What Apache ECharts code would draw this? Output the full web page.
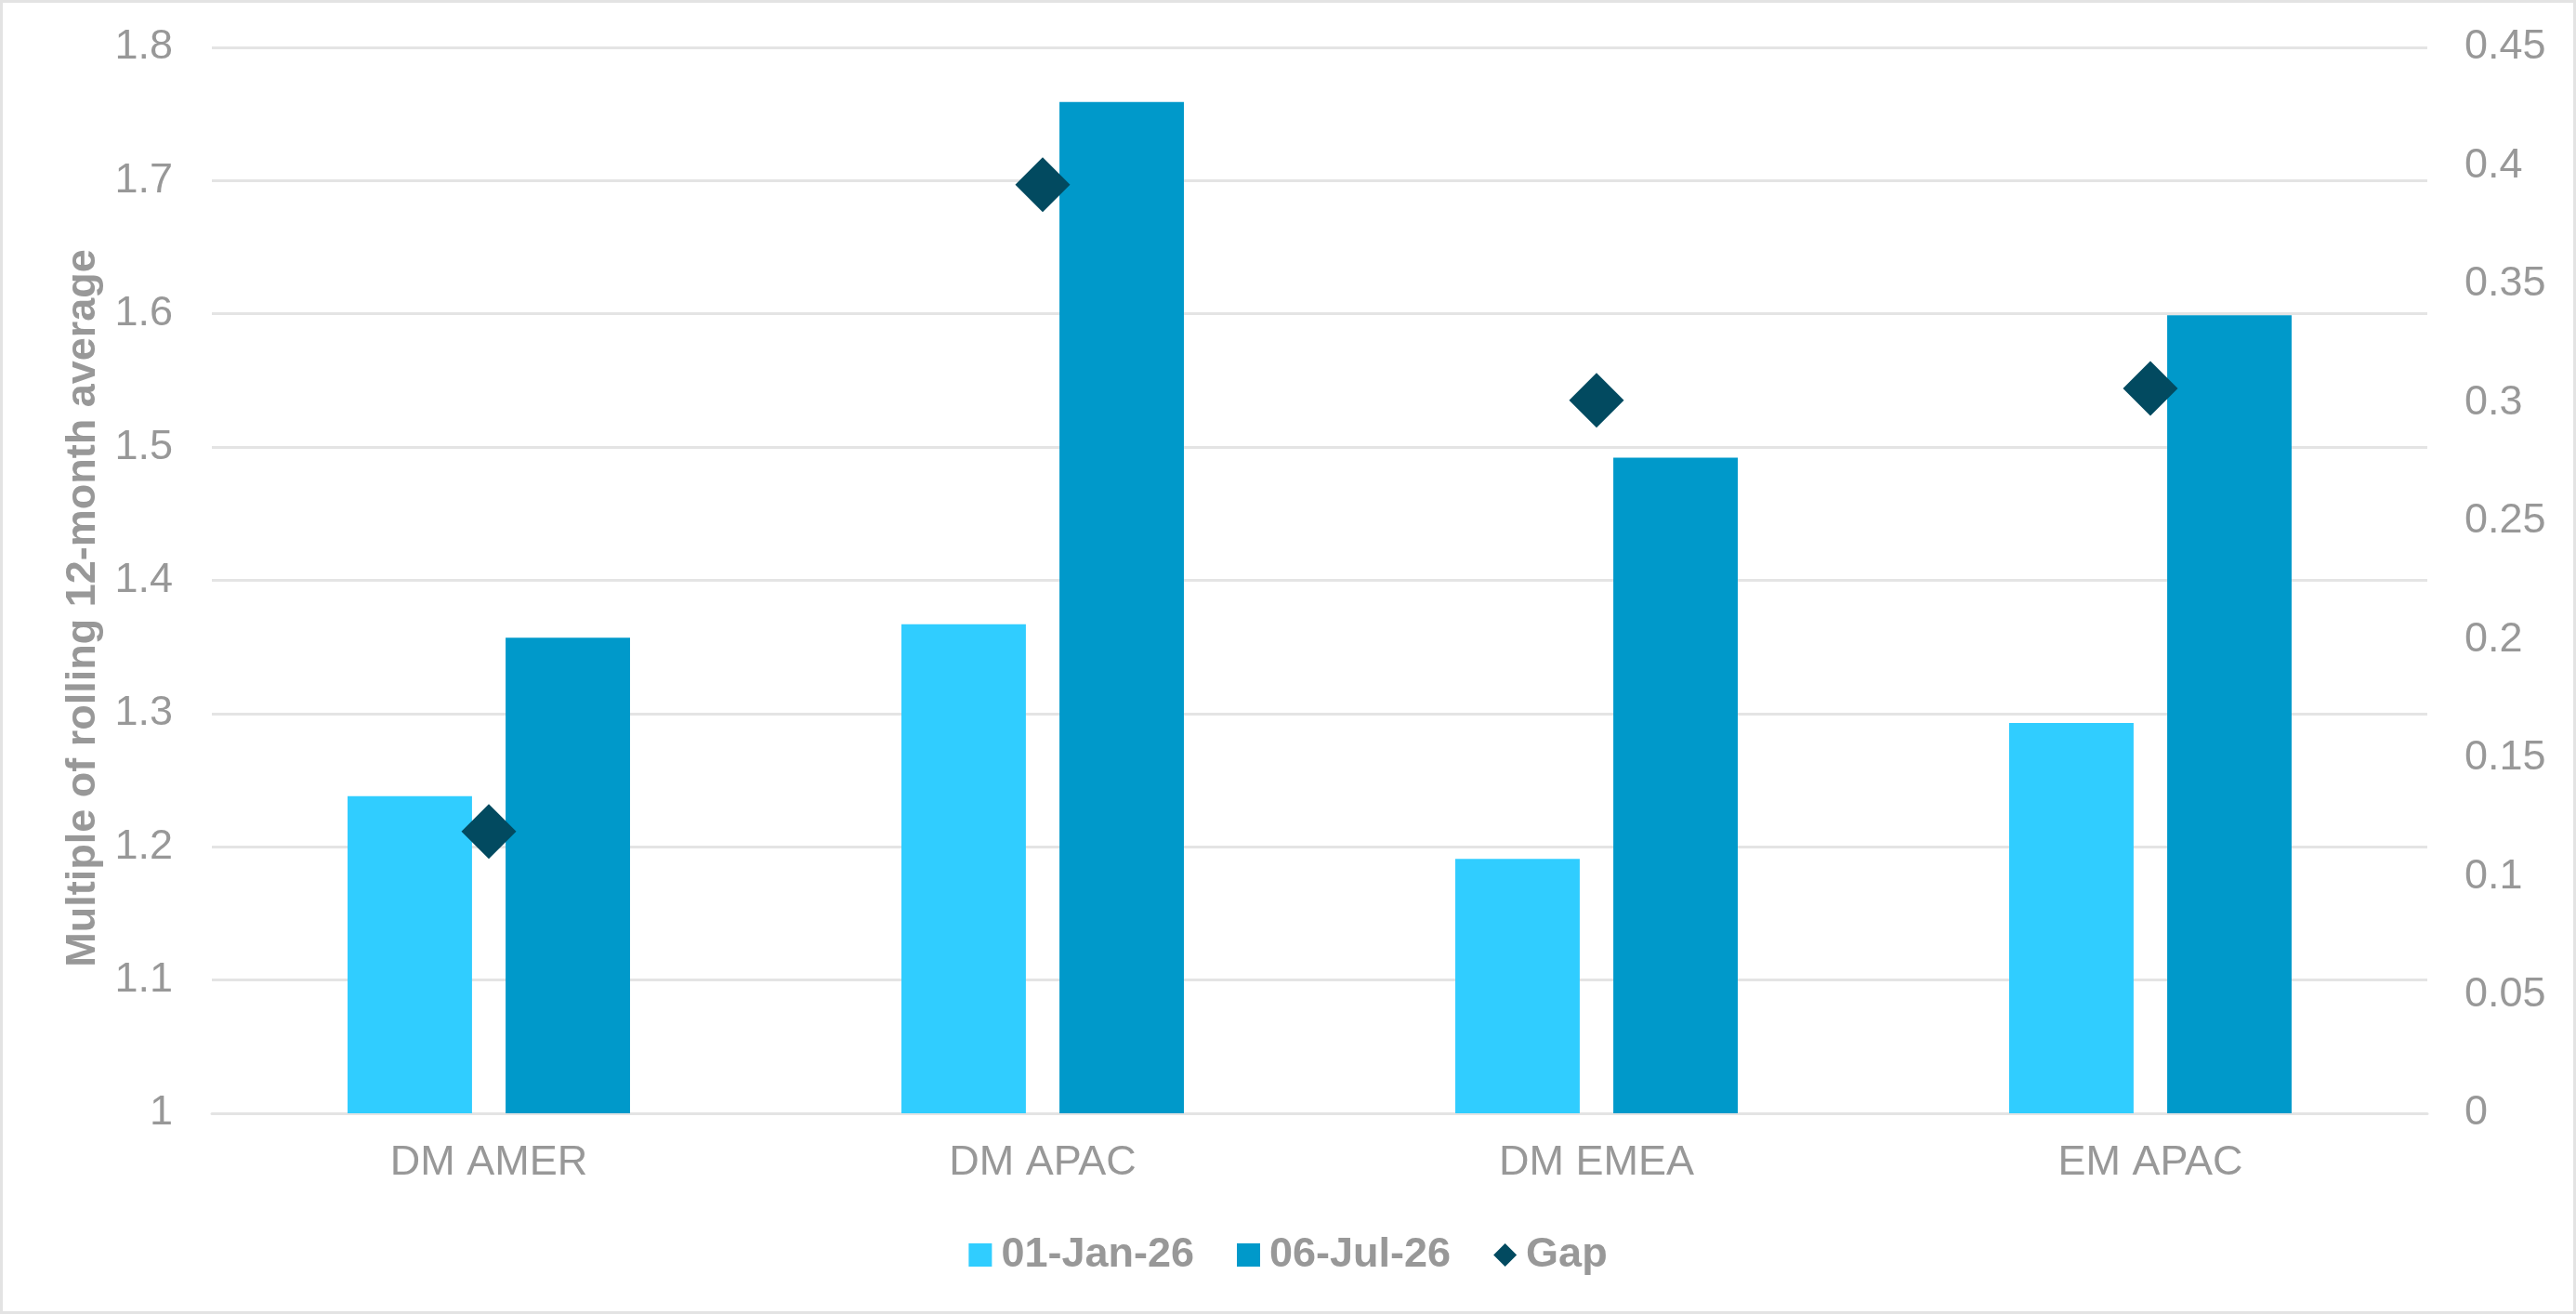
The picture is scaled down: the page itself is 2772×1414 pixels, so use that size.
<!DOCTYPE html>
<html>
<head>
<meta charset="utf-8">
<script src="https://cdn.jsdelivr.net/npm/echarts@6/dist/echarts.min.js"></script>
<style>
  html, body { margin: 0; padding: 0; background: #fff; }
  #main { width: 2772px; height: 1414px; }
</style>
</head>
<body>
<div id="main"></div>
<script>
const regions = ['DM AMER', 'DM APAC', 'DM EMEA', 'EM APAC'];
const janValues = [1.238, 1.367, 1.191, 1.293];
const julValues = [1.357, 1.759, 1.492, 1.599];
const gapValues = [0.119, 0.392, 0.301, 0.306];
const seriesNames = ['01-Jan-26', '06-Jul-26', 'Gap'];

const GREY = '#989898';
const FONT = '"Liberation Sans", Arial, sans-serif';

const chart = echarts.init(document.getElementById('main'));

const option = {
    backgroundColor: '#fff',
    textStyle: { fontFamily: FONT },
    graphic: [{
        type: 'rect',
        shape: { x: 1.5, y: 1.5, width: 2769, height: 1411 },
        style: { fill: 'none', stroke: '#e3e3e3', lineWidth: 3 },
        silent: true
    }],
    grid: { left: 228, right: 160, top: 51, bottom: 216 },
    legend: {
        top: 1323,
        left: 'center',
        itemWidth: 25,
        itemHeight: 25,
        itemGap: 46,
        textStyle: {
            color: GREY,
            fontSize: 45,
            fontWeight: 'bold',
            fontFamily: FONT,
            padding: [0, 0, 0, 5]
        },
        data: [
            { name: seriesNames[0], icon: 'rect' },
            { name: seriesNames[1], icon: 'rect' },
            { name: seriesNames[2], icon: 'diamond' }
        ]
    },
    xAxis: {
        type: 'category',
        data: regions,
        axisTick: { show: false },
        axisLine: { lineStyle: { color: '#e4e4e4', width: 3 } },
        axisLabel: { color: GREY, fontSize: 45, margin: 31, fontFamily: FONT }
    },
    yAxis: [{
        type: 'value',
        min: 1,
        max: 1.8,
        interval: 0.1,
        name: 'Multiple of rolling 12-month average',
        nameLocation: 'middle',
        nameGap: 104,
        nameTextStyle: {
            color: GREY,
            fontSize: 45,
            fontWeight: 'bold',
            fontFamily: FONT,
            padding: [0, 60, 0, 0]
        },
        axisLine: { show: false },
        axisTick: { show: false },
        axisLabel: { color: GREY, fontSize: 45, margin: 42, fontFamily: FONT },
        splitLine: { lineStyle: { color: '#e4e4e4', width: 3 } }
    }, {
        type: 'value',
        min: 0,
        max: 0.45,
        interval: 0.05,
        position: 'right',
        axisLine: { show: false },
        axisTick: { show: false },
        splitLine: { show: false },
        axisLabel: { color: GREY, fontSize: 45, margin: 40, fontFamily: FONT }
    }],
    series: [{
        name: seriesNames[0],
        type: 'bar',
        data: janValues,
        barGap: '27%',
        barCategoryGap: '49%',
        itemStyle: { color: '#30cdff' },
        clip: true
    }, {
        name: seriesNames[1],
        type: 'bar',
        data: julValues,
        itemStyle: { color: '#0099ca' },
        clip: true
    }, {
        name: seriesNames[2],
        type: 'scatter',
        yAxisIndex: 1,
        data: gapValues,
        symbol: 'diamond',
        symbolSize: 59,
        itemStyle: { color: '#024a60', opacity: 1 },
        z: 5
    }]
};

chart.setOption(option);
</script>
</body>
</html>
